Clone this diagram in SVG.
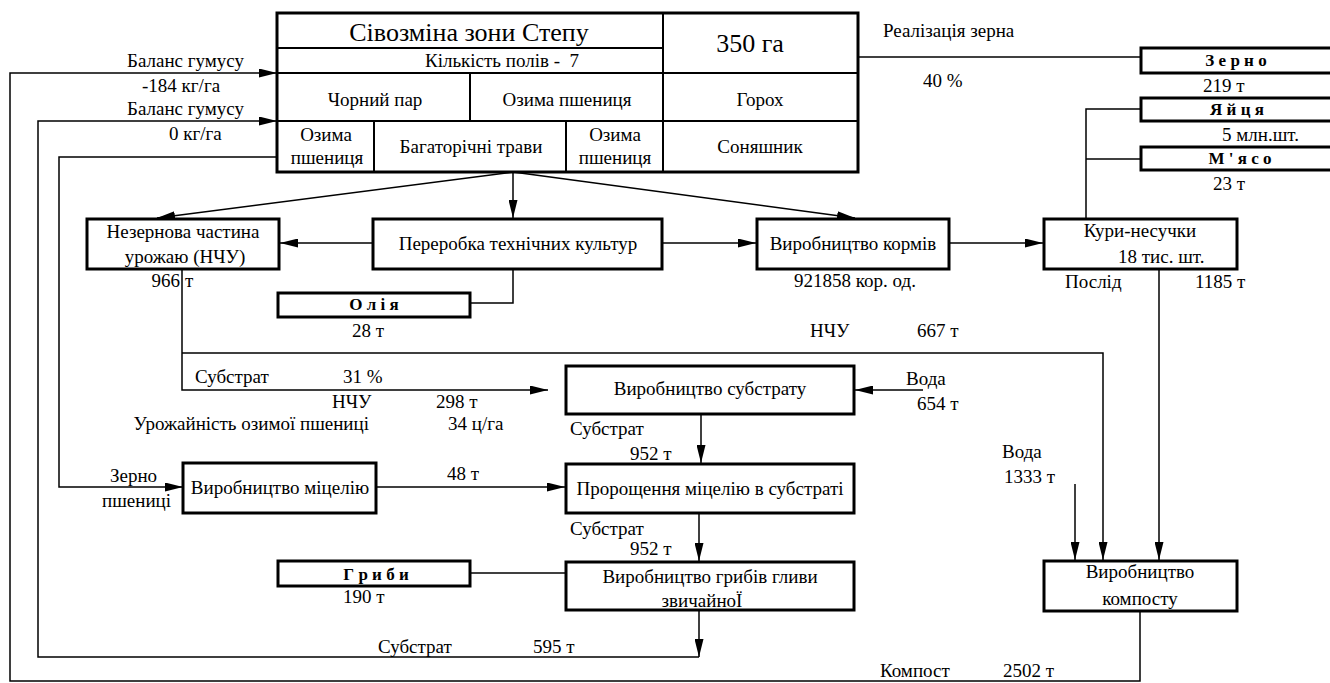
<svg xmlns="http://www.w3.org/2000/svg" width="1330" height="683" viewBox="0 0 1330 683" font-family="'Liberation Serif', 'DejaVu Serif', serif">
<style>
text{font-family:'Liberation Serif','DejaVu Serif',serif;font-size:19px;fill:#000}
.c{text-anchor:middle}
.e{text-anchor:end}
.b{font-weight:bold;font-size:17px}
.big{font-size:26px}
.pre{white-space:pre}
.box{fill:#fff;stroke:#000;stroke-width:3}
.tl{stroke:#000;stroke-width:2;fill:none}
.cn path,.cn line{stroke:#000;stroke-width:1.5;fill:none}
.a{marker-end:url(#ar)}
</style>
<defs>
<marker id="ar" markerUnits="userSpaceOnUse" markerWidth="18" markerHeight="9" refX="18" refY="4.5" orient="auto">
<path d="M0,0 L18,4.5 L0,9 z" fill="#000"/>
</marker>
</defs>
<rect width="1330" height="683" fill="#fff"/>

<g id="connectors" class="cn">
<path class="a" d="M1140,611 V681 H10 V73 H277"/>
<path class="a" d="M699,610 V657"/>
<path class="a" d="M699,657 H38 V121 H277"/>
<path class="a" d="M277,157 H59 V487 H183"/>
<path d="M858,57 H1141"/>
<path d="M1086,219 V109 H1141"/>
<path d="M1086,159 H1141"/>
<path class="a" d="M513,172 L157,218"/>
<path class="a" d="M513,172 V218"/>
<path class="a" d="M513,172 L855,218"/>
<path class="a" d="M373,243 H280"/>
<path class="a" d="M662,243 H756"/>
<path class="a" d="M949,243 H1043"/>
<path d="M513,269 V303 H470"/>
<path class="a" d="M182,269 V390 H548"/>
<path class="a" d="M182,353 H1103 V560"/>
<path class="a" d="M923,390 H855"/>
<path class="a" d="M701,414 V463"/>
<path class="a" d="M376,487 H565"/>
<path class="a" d="M699,513 V561"/>
<path d="M470,573 H566"/>
<path class="a" d="M1075,484 V560"/>
<path class="a" d="M1159,269 V560"/>
</g>

<g id="rotation">
<rect class="box" x="277" y="13" width="581" height="159"/>
<line class="tl" x1="277" y1="48" x2="663" y2="48"/>
<line class="tl" x1="277" y1="73" x2="858" y2="73"/>
<line class="tl" x1="277" y1="121" x2="858" y2="121"/>
<line class="tl" x1="663" y1="13" x2="663" y2="172"/>
<line class="tl" x1="470" y1="73" x2="470" y2="121"/>
<line class="tl" x1="374" y1="121" x2="374" y2="172"/>
<line class="tl" x1="566" y1="121" x2="566" y2="172"/>
<text class="c big" x="469" y="41">Сівозміна зони Степу</text>
<text class="pre" x="425" y="67">Кількість полів -  7</text>
<text class="c big" x="750" y="52">350 га</text>
<text class="c" x="375" y="106">Чорний пар</text>
<text class="c" x="567" y="106">Озима пшениця</text>
<text class="c" x="760" y="106">Горох</text>
<text class="c" x="326" y="141">Озима</text>
<text class="c" x="327" y="164">пшениця</text>
<text class="c" x="471" y="153">Багаторічні трави</text>
<text class="c" x="615" y="141">Озима</text>
<text class="c" x="615" y="164">пшениця</text>
<text class="c" x="760" y="153">Соняшник</text>
</g>

<g id="humus-labels">
<text x="127" y="67">Баланс гумусу</text>
<text x="142" y="92">-184 кг/га</text>
<text x="127" y="115">Баланс гумусу</text>
<text x="169" y="140">0 кг/га</text>
</g>

<g id="grain-sale">
<text x="883" y="37">Реалізація зерна</text>
<text x="923" y="87">40 %</text>
</g>

<g id="zerno">
<rect class="box" x="1141" y="48" width="200" height="25"/>
<text class="c b" x="1236" y="66">З е р н о</text>
<text x="1203" y="92">219 т</text>
</g>
<g id="eggs">
<rect class="box" x="1141" y="98" width="200" height="23"/>
<text class="c b" x="1237" y="115">Я й ц я</text>
<text x="1222" y="141">5 млн.шт.</text>
</g>
<g id="meat">
<rect class="box" x="1141" y="147" width="200" height="23"/>
<text class="c b" x="1240" y="164">М ' я с о</text>
<text x="1213" y="190">23 т</text>
</g>

<g id="nchu">
<rect class="box" x="87" y="219" width="192" height="50"/>
<text class="c" x="183" y="238">Незернова частина</text>
<text class="c" x="185" y="263">урожаю (НЧУ)</text>
<text class="e" x="180" y="287">966</text>
<text x="185" y="287">т</text>
</g>

<g id="processing">
<rect class="box" x="373" y="219" width="289" height="50"/>
<text class="c" x="518" y="250">Переробка технічних культур</text>
</g>

<g id="feed">
<rect class="box" x="757" y="219" width="192" height="50"/>
<text class="c" x="853" y="250">Виробництво кормів</text>
<text class="c" x="855" y="287">921858 кор. од.</text>
</g>

<g id="hens">
<rect class="box" x="1044" y="219" width="193" height="50"/>
<text class="c" x="1140" y="237">Кури-несучки</text>
<text x="1118" y="263">18 тис. шт.</text>
<text x="1065" y="288">Послід</text>
<text x="1195" y="288">1185 т</text>
</g>

<g id="oil">
<rect class="box" x="278" y="293" width="192" height="24"/>
<text class="c b" x="374" y="310">О л і я</text>
<text x="352" y="337">28 т</text>
</g>

<g id="flow-labels">
<text x="810" y="337">НЧУ</text>
<text x="917" y="337">667 т</text>
<text x="195" y="383">Субстрат</text>
<text x="343" y="383">31 %</text>
<text x="332" y="408">НЧУ</text>
<text x="436" y="408">298 т</text>
<text class="e" x="369" y="430">Урожайність озимої пшениці</text>
<text x="448" y="430">34 ц/га</text>
<text x="906" y="385">Вода</text>
<text x="917" y="410">654 т</text>
<text x="1002" y="458">Вода</text>
<text x="1004" y="483">1333 т</text>
<text x="110" y="482">Зерно</text>
<text x="102" y="507">пшениці</text>
<text x="447" y="480">48 т</text>
<text x="570" y="435">Субстрат</text>
<text x="630" y="460">952 т</text>
<text x="570" y="535">Субстрат</text>
<text x="630" y="555">952 т</text>
<text x="378" y="653">Субстрат</text>
<text x="533" y="653">595 т</text>
<text x="880" y="677">Компост</text>
<text x="1003" y="677">2502 т</text>
</g>

<g id="substrate">
<rect class="box" x="566" y="366" width="288" height="48"/>
<text class="c" x="710" y="395">Виробництво субстрату</text>
</g>

<g id="mycelium">
<rect class="box" x="183" y="463" width="193" height="50"/>
<text class="c" x="280" y="494">Виробництво міцелію</text>
</g>

<g id="germination">
<rect class="box" x="566" y="464" width="288" height="49"/>
<text class="c" x="710" y="495">Пророщення міцелію в субстраті</text>
</g>

<g id="mushrooms">
<rect class="box" x="278" y="561" width="192" height="25"/>
<text class="c b" x="376" y="580">Г р и б и</text>
<text x="343" y="603">190 т</text>
</g>

<g id="oyster">
<rect class="box" x="566" y="562" width="288" height="48"/>
<text class="c" x="710" y="583">Виробництво грибів гливи</text>
<text class="c" x="702" y="607">звичайноЇ</text>
</g>

<g id="compost">
<rect class="box" x="1044" y="561" width="193" height="50"/>
<text class="c" x="1140" y="578">Виробництво</text>
<text class="c" x="1140" y="605">компосту</text>
</g>
</svg>
